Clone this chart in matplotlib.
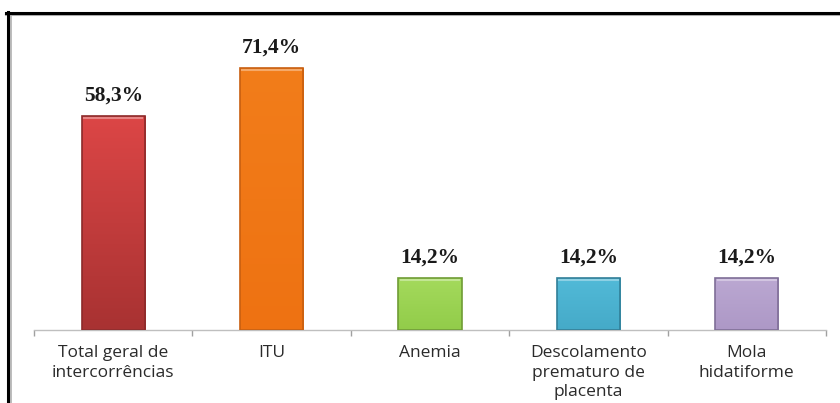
import numpy as np
import matplotlib.pyplot as plt
from matplotlib.colors import LinearSegmentedColormap
from matplotlib.lines import Line2D

# Data
categories = ["Total geral de\nintercorrências", "ITU", "Anemia",
              "Descolamento\nprematuro de\nplacenta", "Mola\nhidatiforme"]
values = [58.3, 71.4, 14.2, 14.2, 14.2]
value_labels = ["58,3%", "71,4%", "14,2%", "14,2%", "14,2%"]

# gradient (top, bottom) and edge colour per bar
top_colors = ["#dc4646", "#f27d1a", "#a4da5c", "#52bad8", "#bba8d2"]
bottom_colors = ["#a83232", "#ee7212", "#92cc4a", "#45aac8", "#ad98c6"]
edge_colors = ["#8c2a2a", "#c85f10", "#6f9c35", "#317f98", "#7f6e97"]

W, H = 840, 403
fig = plt.figure(figsize=(W / 100, H / 100), dpi=100)
ax = fig.add_axes([34 / W, 1 - 330 / H, (826 - 34) / W, 310 / H])

x = np.arange(len(categories))
bars = ax.bar(x, values, width=0.4, color="none", edgecolor="none", zorder=2)

ax.set_xlim(-0.5, len(categories) - 0.5)
ax.set_ylim(0, 84.5)

# gradient fill clipped to each bar
grad = np.linspace(0, 1, 256).reshape(-1, 1)
for b, tc, bc, ec in zip(bars, top_colors, bottom_colors, edge_colors):
    cmap = LinearSegmentedColormap.from_list("g", [bc, tc])
    x0, y0 = b.get_x(), b.get_y()
    w, h = b.get_width(), b.get_height()
    im = ax.imshow(grad, cmap=cmap, origin="lower", aspect="auto",
                   extent=[x0, x0 + w, y0, y0 + h], zorder=2)
    im.set_clip_path(b)
    ax.add_patch(plt.Rectangle((x0, y0), w, h, fill=False, edgecolor=ec,
                               linewidth=1.2, zorder=3))
    # light bevel on top edge
    ax.plot([x0 + w * 0.04, x0 + w * 0.96], [y0 + h - 0.6, y0 + h - 0.6],
            color="white", alpha=0.35, linewidth=1.5, zorder=3)

for b, lab in zip(bars, value_labels):
    ax.annotate(lab, (b.get_x() + b.get_width() / 2, b.get_height()),
                xytext=(0, 7.5), textcoords="offset points",
                ha="center", va="bottom", fontsize=15.5, fontweight="bold",
                family="Liberation Serif", color="#1a1a1a")

ax.set_xticks(x)
ax.set_xticklabels(categories, family="Open Sans", fontsize=12.5,
                   color="#2a2a2a", linespacing=1.3, multialignment="center")
ax.tick_params(axis="x", which="major", length=0, pad=11)
ax.set_xticks(np.arange(-0.5, len(categories)), minor=True)
ax.tick_params(axis="x", which="minor", length=4.5, color="#a0a0a0", width=1)
ax.set_yticks([])

for s in ["top", "right", "left"]:
    ax.spines[s].set_visible(False)
ax.spines["bottom"].set_color("#bfbfbf")
ax.spines["bottom"].set_linewidth(1)

# outer frame (top and left only), with soft grey shadow
fig.add_artist(Line2D([6 / W, 1], [1 - 15 / H] * 2, color="#b0b0b0", lw=1.5))
fig.add_artist(Line2D([10.5 / W] * 2, [0, 1 - 13 / H], color="#b0b0b0", lw=1.2))
fig.add_artist(Line2D([6 / W, 1], [1 - 12.5 / H] * 2, color="black", lw=2.2))
fig.add_artist(Line2D([8 / W] * 2, [0, 1 - 11.5 / H], color="black", lw=2.2))

fig.savefig("out.png", dpi=100)
